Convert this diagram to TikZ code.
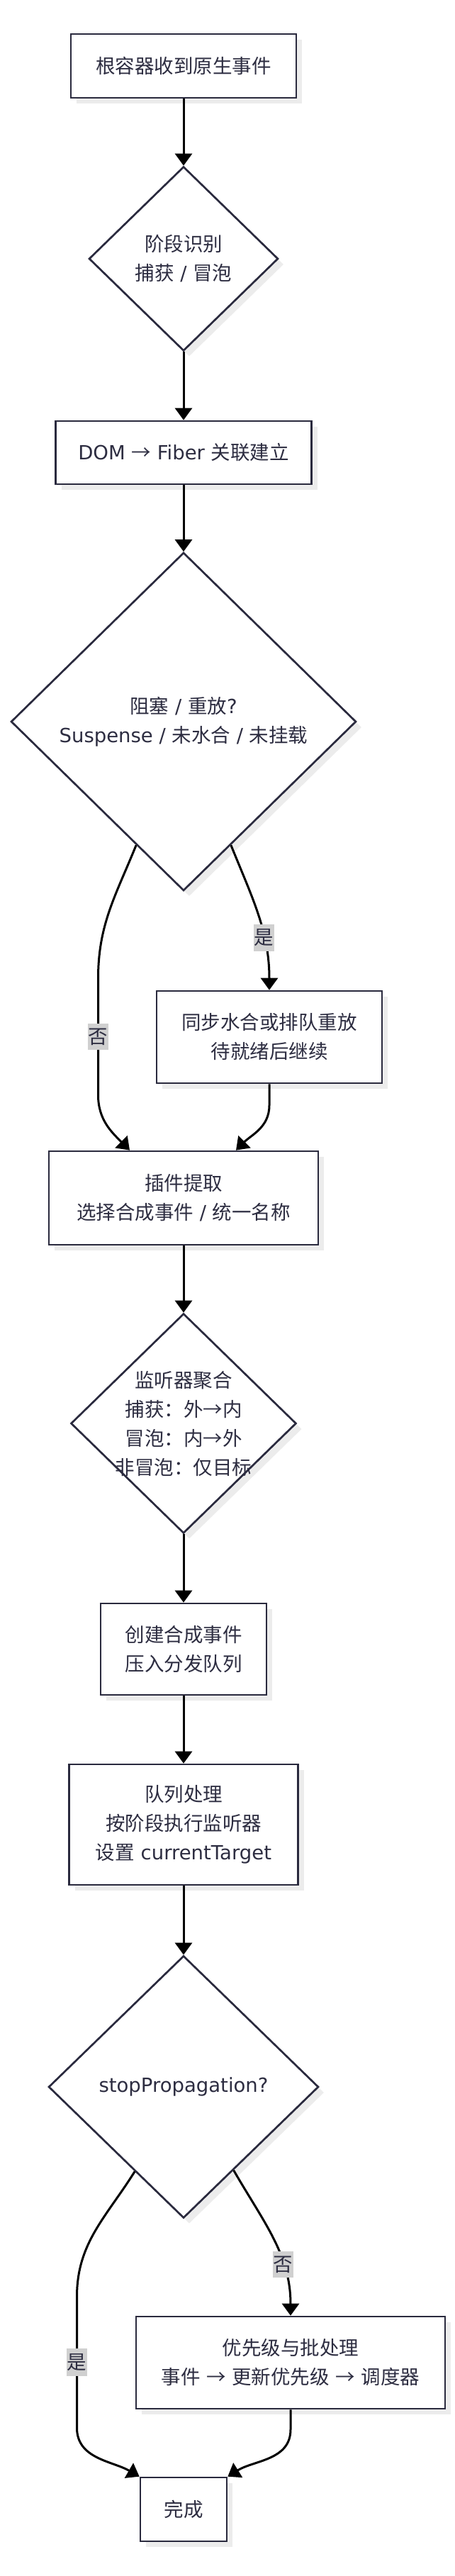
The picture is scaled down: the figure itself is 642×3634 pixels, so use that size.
\documentclass[tikz,border=0pt]{standalone}
\usepackage{fontspec}
\setmainfont{DejaVu Sans}
\newfontfamily\cjkfont{Noto Sans CJK SC}
\newcommand{\zh}[1]{{\cjkfont #1}}
\usepackage{tikz}
\usetikzlibrary{arrows.meta, shapes.geometric, shadows}
\definecolor{linec}{RGB}{42,42,62}
\definecolor{textc}{RGB}{45,45,65}
\definecolor{labbg}{RGB}{208,208,208}
\definecolor{shadowc}{RGB}{236,236,236}

\begin{document}
\begin{tikzpicture}[x=1pt, y=-1pt,
		every node/.style={font=\fontsize{27.5}{41}\selectfont, text=textc},
		box/.style={rectangle, draw=linec, line width=2.7pt, fill=white, align=center, inner sep=0pt,
			drop shadow={shadow xshift=8pt, shadow yshift=-8pt, fill=shadowc, opacity=1}},
		dia/.style={diamond, aspect=1, draw=linec, line width=2.7pt, fill=white, align=center, inner sep=0pt,
			drop shadow={shadow xshift=8pt, shadow yshift=-8pt, fill=shadowc, opacity=1}},
		flow/.style={-{Triangle[length=17pt, width=24pt]}, line width=3pt, black},
		lab/.style={fill=labbg, inner xsep=1pt, inner ysep=7pt}]

		\useasboundingbox (0,0) rectangle (642,3634);

		\node [box, minimum width=318pt, minimum height=90pt] (root) at (259,93) {\zh{根容器收到原生事件}};
		\node [dia, minimum width=267pt, minimum height=260pt] (phase) at (259,365) {\zh{阶段识别}\\\zh{捕获} / \zh{冒泡}};
		\node [box, minimum width=361pt, minimum height=89pt] (link) at (259,638.5) {DOM \zh{→} Fiber \zh{关联建立}};
		\node [dia, minimum width=487pt, minimum height=477pt] (block) at (259,1018) {\zh{阻塞} / \zh{重放}?\\Suspense / \zh{未水合} / \zh{未挂载}};
		\node [box, minimum width=318pt, minimum height=130pt] (replay) at (380,1463) {\zh{同步水合或排队重放}\\\zh{待就绪后继续}};
		\node [box, minimum width=380pt, minimum height=132pt] (plugin) at (259,1690) {\zh{插件提取}\\\zh{选择合成事件} / \zh{统一名称}};
		\node [dia, inner sep=-15pt, minimum width=318pt, minimum height=310pt] (collect) at (259,2008) {\zh{监听器聚合}\\\zh{捕获：外→内}\\\zh{冒泡：内→外}\\\zh{非冒泡：仅目标}};
		\node [box, minimum width=234pt, minimum height=129pt] (create) at (259,2326.5) {\zh{创建合成事件}\\\zh{压入分发队列}};
		\node [box, minimum width=323pt, minimum height=170pt] (queue) at (259,2574) {\zh{队列处理}\\\zh{按阶段执行监听器}\\\zh{设置} currentTarget};
		\node [dia, minimum width=381pt, minimum height=370pt] (stop) at (259,2944) {stopPropagation?};
		\node [box, minimum width=436pt, minimum height=130pt] (prio) at (410,3333) {\zh{优先级与批处理}\\\zh{事件} \zh{→} \zh{更新优先级} \zh{→} \zh{调度器}};
		\node [box, minimum width=122pt, minimum height=90pt] (done) at (259,3540) {\zh{完成}};

		\draw [flow] (root.south) -- (phase.north);
		\draw [flow] (phase.south) -- (link.north);
		\draw [flow] (link.south) -- (block.north);
		\draw [flow] (block.-69) to[out=-68, in=90] node [lab, pos=0.66] {\zh{是}} (replay.north);
		\draw [flow] (block.-111) to[out=-112, in=90] (138.5,1380) -- node [lab] {\zh{否}} (138.5,1545) to[out=-90, in=135] ([xshift=-76pt]plugin.north);
		\draw [flow] (replay.south) -- ++(0,30) to[out=-90, in=45] ([xshift=74pt]plugin.north);
		\draw [flow] (plugin.south) -- (collect.north);
		\draw [flow] (collect.south) -- (create.north);
		\draw [flow] (create.south) -- (queue.north);
		\draw [flow] (queue.south) -- (stop.north);
		\draw [flow] (stop.-120) to[out=-122, in=90] (108.5,3240) -- node [lab] {\zh{是}} (108.5,3425) to[out=-90, in=150] (done.north west);
		\draw [flow] (stop.-59) to[out=-60, in=90] node [lab, pos=0.68] {\zh{否}} (prio.north);
		\draw [flow] (prio.south) -- ++(0,28) to[out=-90, in=32] (done.north east);
\end{tikzpicture}
\end{document}
